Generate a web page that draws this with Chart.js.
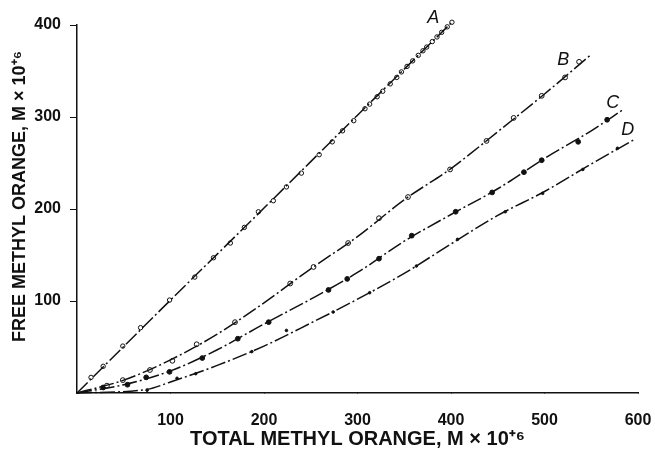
<!DOCTYPE html>
<html>
<head>
<meta charset="utf-8">
<script src="https://cdn.jsdelivr.net/npm/chart.js@4/dist/chart.umd.min.js"></script>
<style>
  html, body { margin: 0; padding: 0; background: #fff; }
  #wrap { width: 655px; height: 451px; }
</style>
</head>
<body>
<div id="wrap"><canvas id="moChart"></canvas></div>
<script>
// Measured points: total vs free methyl orange (M x 10^-6)
const aTotal = [15, 28, 49, 68, 99, 126, 146, 164, 179, 194, 210, 224, 240, 259, 273, 284, 296, 308, 313, 321, 327, 335, 342, 347, 353, 359, 365, 370, 374, 380, 385, 390, 396, 401];
const aFree  = [17, 29, 51, 71, 101, 126, 147, 163, 180, 197, 209, 224, 239, 259, 273, 285, 296, 309, 314, 322, 328, 336, 343, 349, 355, 361, 367, 372, 376, 382, 387, 392, 398, 403];

const bTotal = [32, 49, 78, 102, 128, 169, 228, 253, 290, 323, 354, 399, 438, 467, 497, 522, 537];
const bFree  = [8, 14, 25, 35, 53, 77, 119, 137, 163, 190, 213, 243, 274, 299, 323, 343, 360];

const cTotal = [28, 54, 74, 99, 134, 172, 205, 269, 289, 323, 358, 405, 444, 478, 497, 536, 567];
const cFree  = [6, 9, 17, 23, 38, 59, 77, 112, 124, 146, 171, 197, 218, 240, 253, 273, 297];

const dTotal = [75, 107, 127, 187, 224, 274, 313, 363, 407, 458, 498, 541, 578];
const dFree  = [3, 16, 21, 45, 68, 88, 109, 138, 167, 197, 217, 243, 266];

// Smooth drawn curves
const fitATotal = [0, 100, 200, 300, 401];
const fitAFree  = [0, 101, 201, 302, 403];
const fitBTotal = [0, 50, 100, 150, 200, 250, 300, 350, 400, 450, 500, 550];
const fitBFree  = [0, 14, 36, 64, 98, 135, 170, 210, 244, 284, 325, 368];
const fitCTotal = [0, 50, 100, 150, 200, 250, 300, 350, 400, 450, 500, 550, 584];
const fitCFree  = [0, 9, 24, 47, 75, 102, 131, 165, 194, 222, 255, 285, 308];
const fitDTotal = [0, 75, 100, 150, 200, 250, 300, 350, 400, 450, 500, 550, 597];
const fitDFree  = [0, 4, 12, 30, 51, 76, 102, 130, 162, 193, 219, 249, 276];

const curveNames = ['A', 'B', 'C', 'D'];
const curveLabelX = [381, 520, 573, 589];
const curveLabelY = [408, 362, 315, 286];

const xTicks = [100, 200, 300, 400, 500, 600];
const yTicks = [100, 200, 300, 400];

const ink = '#111';
const pts = (xs, ys) => xs.map((x, i) => ({ x: x, y: ys[i] }));

function fitLine(xs, ys) {
    return {
        data: pts(xs, ys), showLine: true, pointRadius: 0,
        borderColor: ink, borderWidth: 1.5, borderDash: [15, 3, 2, 3],
        cubicInterpolationMode: 'monotone', clip: false
    };
}
function markers(xs, ys, r, fill) {
    return {
        data: pts(xs, ys), showLine: false, pointRadius: r,
        pointBackgroundColor: fill, pointBorderColor: ink, pointBorderWidth: 1, clip: false
    };
}

const curveLabels = {
    id: 'curveLabels',
    afterDatasetsDraw(chart) {
        const { ctx, scales } = chart;
        ctx.save();
        ctx.fillStyle = ink;
        ctx.font = 'italic 18px "Liberation Sans", Arial, sans-serif';
        ctx.textAlign = 'center';
        ctx.textBaseline = 'middle';
        curveNames.forEach((n, i) => {
            ctx.fillText(n, scales.x.getPixelForValue(curveLabelX[i]), scales.y.getPixelForValue(curveLabelY[i]));
        });
        ctx.restore();
    }
};

const axisFont = { family: '"Liberation Sans", Arial, sans-serif', size: 16, weight: 'bold' };
const titleFont = { family: '"Liberation Sans", Arial, sans-serif', size: 20, weight: 'bold' };
const yTitleFont = { family: '"Liberation Sans", Arial, sans-serif', size: 18, weight: 'bold' };

new Chart(document.getElementById('moChart').getContext('2d'), {
    type: 'scatter',
    data: {
        datasets: [
            fitLine(fitATotal, fitAFree),
            fitLine(fitBTotal, fitBFree),
            fitLine(fitCTotal, fitCFree),
            fitLine(fitDTotal, fitDFree),
            markers(aTotal, aFree, 2.2, '#fff'),
            markers(bTotal, bFree, 2.4, '#fff'),
            markers(cTotal, cFree, 2.4, ink),
            markers(dTotal, dFree, 1.3, ink)
        ]
    },
    options: {
        responsive: true,
        maintainAspectRatio: false,
        animation: false,
        layout: { padding: { top: 25, right: 17, left: 0, bottom: 0 } },
        plugins: { legend: { display: false }, tooltip: { enabled: false } },
        scales: {
            x: {
                min: 0, max: 600,
                afterBuildTicks: s => { s.ticks = xTicks.map(v => ({ value: v })); },
                afterFit: s => { s.height = 58; s.paddingRight = 0; s.paddingLeft = 0; },
                grid: { display: true, drawOnChartArea: false, drawTicks: true, tickLength: 0, color: ink },
                border: { display: true, color: ink, width: 1.5 },
                ticks: { color: ink, font: axisFont, padding: 18, maxRotation: 0 },
                title: { display: true, text: 'TOTAL METHYL ORANGE, M × 10⁺⁶', color: ink, font: titleFont, padding: { top: 0, bottom: 0 } }
            },
            y: {
                min: 0, max: 400,
                afterBuildTicks: s => { s.ticks = yTicks.map(v => ({ value: v })); },
                afterFit: s => { s.width = 77; s.paddingTop = 0; s.paddingBottom = 0; },
                grid: { display: true, drawOnChartArea: false, drawTicks: true, tickLength: 7, color: ink },
                border: { display: true, color: ink, width: 1.5 },
                ticks: { color: ink, font: axisFont, padding: 9 },
                // leading spaces nudge the title up along the axis, as in the original
                title: { display: true, text: '     FREE METHYL ORANGE, M × 10⁺⁶', color: ink, font: yTitleFont, padding: { top: 9, bottom: 0 } }
            }
        }
    },
    plugins: [curveLabels]
});
</script>
</body>
</html>
